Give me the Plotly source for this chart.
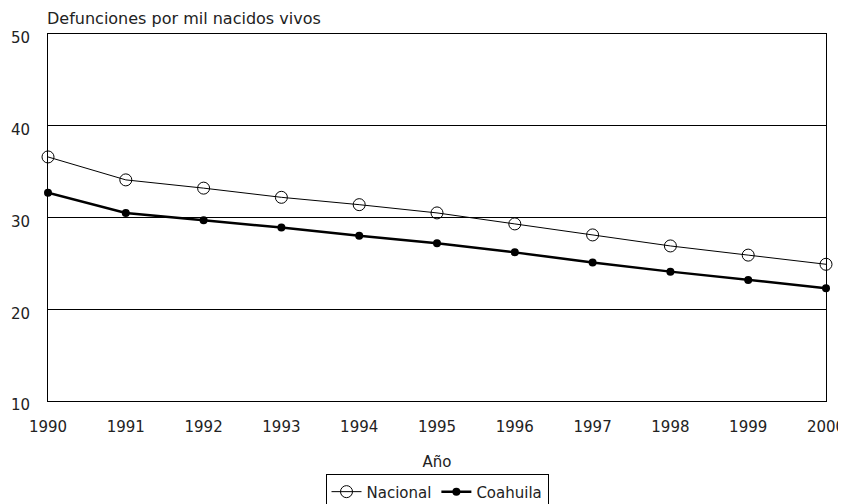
import plotly.graph_objects as go

years = [1990, 1991, 1992, 1993, 1994, 1995, 1996, 1997, 1998, 1999, 2000]
nacional = [36.6, 34.1, 33.2, 32.2, 31.4, 30.5, 29.3, 28.1, 26.9, 25.9, 24.9]
coahuila = [32.7, 30.5, 29.7, 28.9, 28.0, 27.2, 26.2, 25.1, 24.1, 23.2, 22.3]
y_ticks = [10, 20, 30, 40, 50]

FONT = "DejaVu Sans"

fig = go.Figure()
fig.add_trace(go.Scatter(
    x=years, y=nacional, name="Nacional", mode="lines+markers",
    line=dict(color="black", width=1),
    marker=dict(symbol="circle-open", size=12, color="black", line=dict(width=1)),
    cliponaxis=False,
))
fig.add_trace(go.Scatter(
    x=years, y=coahuila, name="Coahuila", mode="lines+markers",
    line=dict(color="black", width=2.5),
    marker=dict(symbol="circle", size=8, color="black"),
    cliponaxis=False,
))

fig.update_layout(
    width=838, height=496,
    margin=dict(l=40, r=20, t=26, b=103, autoexpand=False),
    paper_bgcolor="white", plot_bgcolor="white",
    font=dict(family=FONT, size=15, color="#222"),
    showlegend=True,
    legend=dict(
        orientation="h", x=0.5, xanchor="center", y=-0.2, yanchor="top",
        bordercolor="black", borderwidth=1, font=dict(size=15),
        itemwidth=30, tracegroupgap=0,
    ),
    annotations=[dict(
        text="Defunciones por mil nacidos vivos", x=0, xref="paper", xanchor="left",
        y=1.0, yref="paper", yanchor="bottom", yshift=4, xshift=-3, showarrow=False,
        font=dict(family=FONT, size=16, color="#222"),
    )],
)
fig.update_xaxes(
    range=[1990, 2000], tickmode="array", tickvals=years,
    ticktext=[str(y) for y in years], ticks="", showgrid=False,
    showline=True, linecolor="black", linewidth=1, mirror=True,
    ticklabelstandoff=12, automargin=False, ticklabeloverflow="allow",
    title=dict(text="Año", font=dict(size=15), standoff=21),
)
fig.update_yaxes(
    range=[10, 50], tickmode="array", tickvals=y_ticks, ticks="",
    showgrid=True, gridcolor="black", gridwidth=1,
    showline=True, linecolor="black", linewidth=1, mirror=True,
    zeroline=False, ticklabelstandoff=14, ticklabelshift=4,
    automargin=False, ticklabeloverflow="allow",
)

fig.write_html("out.html")
